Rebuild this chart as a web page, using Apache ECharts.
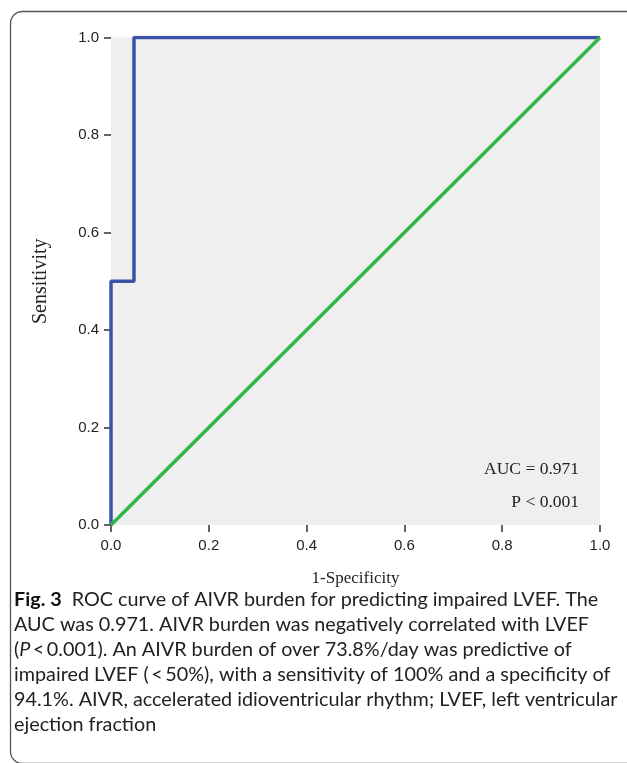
<!DOCTYPE html>
<html>
<head>
<meta charset="utf-8">
<script src="https://cdn.jsdelivr.net/npm/echarts@6/dist/echarts.min.js"></script>
<style>
  html, body { margin: 0; padding: 0; background: #fff; }
  #chart { width: 627px; height: 763px; }
</style>
</head>
<body>
<div id="chart"></div>
<script>
// ROC curve (1-specificity, sensitivity)
const rocX = [0, 0, 0.047, 0.047, 1];
const rocY = [0, 0.5, 0.5, 1, 1];
// reference diagonal
const refX = [0, 1];
const refY = [0, 1];
const statLines = ['AUC = 0.971', 'P < 0.001'];
const captionLines = [
  '{b|Fig. 3}  ROC curve of AIVR burden for predicting impaired LVEF. The',
  'AUC was 0.971. AIVR burden was negatively correlated with LVEF',
  '({i|P}\u2009<\u20090.001). An AIVR burden of over 73.8%/day was predictive of',
  'impaired LVEF (\u2009<\u200950%), with a sensitivity of 100% and a specificity of',
  '94.1%. AIVR, accelerated idioventricular rhythm; LVEF, left ventricular',
  'ejection fraction'
];

const chart = echarts.init(document.getElementById('chart'));

const pairs = (xs, ys) => xs.map((x, i) => [x, ys[i]]);
const tickLabel = { fontFamily: 'Liberation Sans', fontSize: 15, color: '#222' };
const serif = 'Liberation Serif';
const capFont = 'Lato';
const capSize = 19.8;

const captionText = captionLines.map((t, i) => ({
  type: 'text',
  left: 14,
  top: 590 + i * 25,
  style: {
    text: t,
    fontFamily: capFont,
    fontSize: capSize,
    fill: '#222',
    rich: {
      b: { fontFamily: capFont, fontWeight: 'bold', fontSize: capSize, fill: '#111' },
      i: { fontFamily: capFont, fontStyle: 'italic', fontSize: capSize, fill: '#222' }
    }
  }
}));

const option = {
  animation: false,
  backgroundColor: '#fff',
  grid: {
    left: 111, right: 27, top: 37.5, bottom: 238,
    show: true, backgroundColor: '#efefef', borderWidth: 0
  },
  xAxis: {
    type: 'value', min: 0, max: 1, interval: 0.2,
    axisLine: { show: false },
    axisTick: { show: true, length: 7, lineStyle: { color: '#333', width: 1.5 } },
    splitLine: { show: false },
    axisLabel: Object.assign({ margin: 13, formatter: v => v.toFixed(1) }, tickLabel),
    name: '1-Specificity',
    nameLocation: 'middle',
    nameGap: 45,
    nameTextStyle: { fontFamily: serif, fontSize: 17, color: '#222' }
  },
  yAxis: {
    type: 'value', min: 0, max: 1, interval: 0.2,
    axisLine: { show: false },
    axisTick: { show: true, length: 7, lineStyle: { color: '#333', width: 1.5 } },
    splitLine: { show: false },
    axisLabel: Object.assign({ margin: 12, formatter: v => v.toFixed(1) }, tickLabel),
    name: 'Sensitivity',
    nameLocation: 'middle',
    nameGap: 60,
    nameTextStyle: { fontFamily: serif, fontSize: 20, color: '#222' }
  },
  series: [
    {
      type: 'line',
      data: pairs(rocX, rocY),
      symbol: 'none',
      lineStyle: { color: '#3b52a6', width: 3.5 },
      z: 2
    },
    {
      type: 'line',
      data: pairs(refX, refY),
      symbol: 'none',
      lineStyle: { color: '#2fb845', width: 3.5 },
      z: 3
    }
  ],
  graphic: [
    {
      type: 'rect',
      shape: { x: 10.5, y: 11.5, width: 640, height: 752, r: 12 },
      style: { fill: 'none', stroke: '#555', lineWidth: 1.3 },
      silent: true
    },
    {
      type: 'text',
      right: 48,
      top: 460,
      style: { text: statLines[0], fontFamily: serif, fontSize: 17.5, fill: '#222' }
    },
    {
      type: 'text',
      right: 48,
      top: 493,
      style: { text: statLines[1], fontFamily: serif, fontSize: 17.5, fill: '#222' }
    }
  ].concat(captionText)
};

chart.setOption(option);
</script>
</body>
</html>
